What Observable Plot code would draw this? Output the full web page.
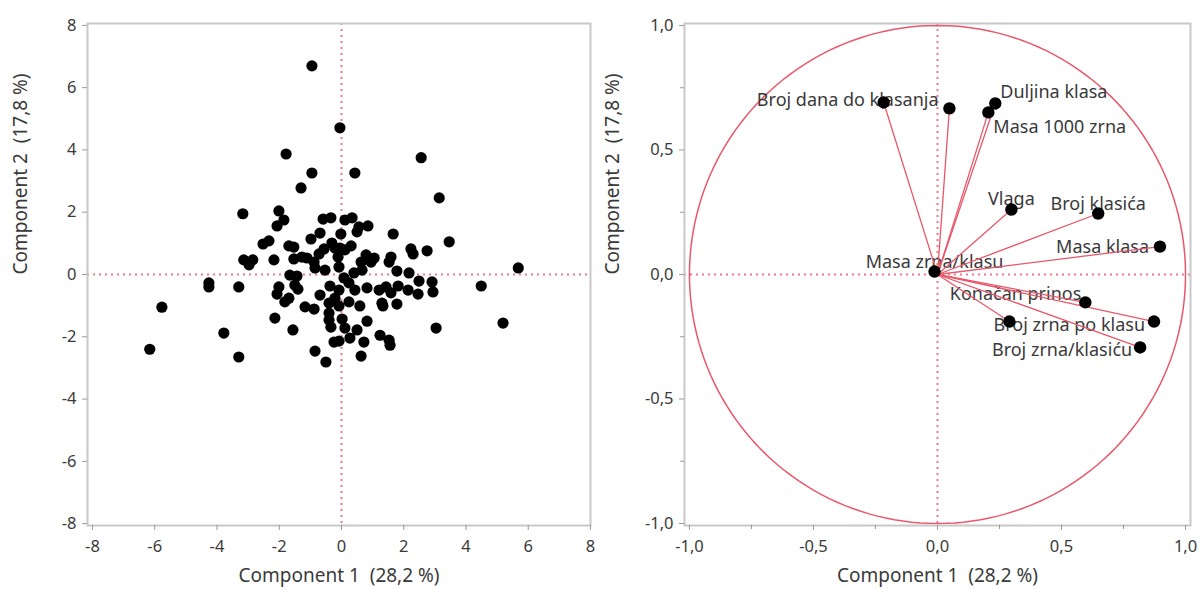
<!DOCTYPE html>
<html>
<head>
<meta charset="utf-8">
<script src="https://cdn.jsdelivr.net/npm/d3@7"></script>
<script src="https://cdn.jsdelivr.net/npm/@observablehq/plot@0.6"></script>
<style>
  html, body { margin: 0; padding: 0; background: #fff; }
  #wrap { position: relative; width: 1201px; height: 589px; overflow: hidden; font-family: "Noto Sans", sans-serif; }
  #left { position: absolute; left: 0; top: 0; }
  #right { position: absolute; left: 600px; top: 0; }
</style>
</head>
<body>
<div id="wrap"><div id="left"></div><div id="right"></div></div>
<script>
// ---- Score plot data (Component 1, Component 2) ----
const scoreX = [-0.95,-0.05,-1.78,-0.95,0.43,-1.30,2.56,3.14,3.46,5.68,4.49,5.19,3.04,-5.77,-6.16,-4.26,-4.26,-3.30,-3.78,-3.30,
  -3.17,-2.01,-1.85,-2.07,-0.59,-0.34,0.11,0.34,-0.69,-0.98,-2.52,-2.33,-1.69,-1.53,-0.56,-0.02,0.50,0.85,1.66,-3.14,
  -2.85,-2.97,-2.17,-1.53,-1.27,-1.11,-0.88,-0.85,-0.72,-0.31,-0.21,-0.05,0.11,0.31,-0.11,0.79,0.63,1.05,0.95,1.59,
  1.53,2.23,2.30,2.75,-0.08,-0.53,1.78,2.17,0.40,0.66,0.08,-1.66,-1.43,-2.01,-2.07,-1.50,-1.40,-1.82,-1.69,-1.17,
  -0.88,-0.69,-2.14,-1.56,-0.85,-0.50,-0.37,-0.08,0.24,0.43,0.82,1.21,1.43,1.59,1.82,2.14,2.46,2.94,2.49,2.91,
  -0.40,-0.21,-0.08,0.24,0.59,1.30,1.33,1.78,-0.40,-0.40,0.02,-0.34,0.11,0.82,0.50,0.27,-0.24,-0.08,0.72,1.24,
  1.53,1.56,0.63,0.56];
const scoreY = [6.70,4.71,3.87,3.26,3.26,2.78,3.75,2.46,1.05,0.21,-0.37,-1.56,-1.72,-1.05,-2.40,-0.27,-0.40,-0.40,-1.88,-2.65,
  1.95,2.04,1.75,1.56,1.78,1.82,1.75,1.82,1.33,1.14,0.98,1.08,0.92,0.88,0.82,1.30,1.37,1.56,1.30,0.47,
  0.47,0.31,0.47,0.50,0.56,0.53,0.40,0.21,0.66,1.01,0.85,0.85,0.79,0.92,0.56,0.63,0.40,0.53,0.40,0.56,
  0.40,0.82,0.66,0.76,0.24,0.14,0.11,0.05,0.05,0.14,-0.11,-0.02,-0.05,-0.40,-0.63,-0.34,-0.47,-0.88,-0.76,-1.04,
  -1.11,-0.66,-1.40,-1.78,-2.46,-2.81,-0.37,-0.50,-0.27,-0.50,-0.43,-0.50,-0.40,-0.59,-0.37,-0.50,-0.63,-0.56,-0.21,-0.24,
  -0.92,-0.76,-1.01,-0.88,-1.01,-0.92,-1.01,-0.95,-1.24,-1.46,-1.43,-1.69,-1.72,-1.50,-1.78,-2.04,-2.17,-2.14,-2.17,-1.95,
  -2.11,-2.27,-2.62,1.53];

// ---- Loading plot data ----
const loadNames = ["Broj dana do klasanja","","Duljina klasa","Masa 1000 zrna","Vlaga","Broj klasića","Masa klasa",
  "Masa zrna/klasu","Konačan prinos","Broj zrna po klasu","","Broj zrna/klasiću"];
const loadX = [-0.217,0.048,0.233,0.205,0.298,0.648,0.897,-0.012,0.596,0.873,0.290,0.817];
const loadY = [0.691,0.667,0.687,0.651,0.261,0.245,0.112,0.012,-0.112,-0.189,-0.189,-0.293];

// ---- Tick values ----
const scoreTicks = [-8,-6,-4,-2,0,2,4,6,8];
const loadTicks = [-1,-0.5,0,0.5,1];
const loadMinorTicks = [-0.75,-0.25,0.25,0.75];

const xTitle = "Component 1\u00a0 (28,2 %)";
const yTitle = "Component 2\u00a0 (17,8 %)";

// styles
const FONT = "Noto Sans";
const RED = "#e8586a";
const DOT_RED = "#f07888";
const GRID = "#c8c8c8";
const TXT = "#3a3a3a";
const TICK_FS = 16.5;
const TITLE_FS = 19;
const LABEL_FS = 18;

const scores = scoreX.map((x, i) => ({x, y: scoreY[i]}));
const loads = loadX.map((x, i) => ({name: loadNames[i], x, y: loadY[i]}));

const commaFmt = d => d.toFixed(1).replace(".", ",");

function axes(ticks, fmt, minor) {
  const m = [
    Plot.axisX(ticks, {tickSize: 5, tickPadding: 10, tickFormat: fmt, stroke: "#999", fill: TXT, fontSize: TICK_FS, label: null}),
    Plot.axisY(ticks, {tickSize: 5, tickPadding: 6, tickFormat: fmt, stroke: "#999", fill: TXT, fontSize: TICK_FS, label: null})
  ];
  if (minor) {
    m.push(Plot.axisX(minor, {tickSize: 4, tickFormat: () => "", stroke: "#999", label: null}));
    m.push(Plot.axisY(minor, {tickSize: 4, tickFormat: () => "", stroke: "#999", label: null}));
  }
  return m;
}

function titles(ydx) {
  return [
    Plot.text([xTitle], {frameAnchor: "bottom", dy: 56, fontSize: TITLE_FS, fill: TXT, text: d => d}),
    Plot.text([yTitle], {frameAnchor: "left", dx: ydx, rotate: -90, fontSize: TITLE_FS, fill: TXT, text: d => d})
  ];
}

const left = Plot.plot({
  width: 600, height: 589,
  marginLeft: 87, marginRight: 10, marginTop: 23, marginBottom: 64,
  style: {fontFamily: FONT, background: "white"},
  x: {domain: [-8.16, 8], label: null},
  y: {domain: [-8.06, 8.06], label: null},
  marks: [
    Plot.ruleX([0], {stroke: DOT_RED, strokeWidth: 2, strokeDasharray: "2,4"}),
    Plot.ruleY([0], {stroke: DOT_RED, strokeWidth: 2, strokeDasharray: "2,4"}),
    Plot.dot(scores, {x: "x", y: "y", r: 5.6, fill: "black", stroke: "none"}),
    Plot.frame({stroke: GRID, strokeWidth: 2}),
    ...axes(scoreTicks, d => String(d), null),
    ...titles(-67)
  ]
});
document.getElementById("left").appendChild(left);

// unit circle guide
const circle = d3.range(0, 361, 2).map(a => ({x: Math.cos(a * Math.PI / 180), y: Math.sin(a * Math.PI / 180)}));

const labelSpecs = {
  "Broj dana do klasanja": {anchor: "middle", dx: -36, dy: -2},
  "Duljina klasa": {anchor: "start", dx: 5, dy: -11},
  "Masa 1000 zrna": {anchor: "start", dx: 5, dy: 15},
  "Vlaga": {anchor: "middle", dx: 0, dy: -10},
  "Broj klasića": {anchor: "middle", dx: 0, dy: -9},
  "Masa klasa": {anchor: "end", dx: -11, dy: 1},
  "Masa zrna/klasu": {anchor: "middle", dx: 0, dy: -9},
  "Konačan prinos": {anchor: "end", dx: -4, dy: -8},
  "Broj zrna po klasu": {anchor: "end", dx: -9, dy: 4},
  "Broj zrna/klasiću": {anchor: "end", dx: -8, dy: 3}
};
const labelMarks = loads.filter(d => d.name).map(d => {
  const s = labelSpecs[d.name];
  return Plot.text([d], {x: "x", y: "y", text: "name", textAnchor: s.anchor, dx: s.dx, dy: s.dy, fontSize: LABEL_FS, fill: TXT});
});

const right = Plot.plot({
  width: 601, height: 589,
  marginLeft: 84, marginRight: 11, marginTop: 23, marginBottom: 64,
  style: {fontFamily: FONT, background: "white"},
  x: {domain: [-1.02, 1.02], label: null},
  y: {domain: [-1.008, 1.008], label: null},
  marks: [
    Plot.ruleX([0], {stroke: DOT_RED, strokeWidth: 2, strokeDasharray: "2,4"}),
    Plot.ruleY([0], {stroke: DOT_RED, strokeWidth: 2, strokeDasharray: "2,4"}),
    Plot.line(circle, {x: "x", y: "y", stroke: RED, strokeWidth: 1.5, curve: "linear"}),
    ...labelMarks,
    Plot.arrow(loads, {x1: d => 0, y1: d => 0, x2: "x", y2: "y", stroke: RED, strokeWidth: 1.3, headLength: 7}),
    Plot.dot(loads, {x: "x", y: "y", r: 6.2, fill: "black", stroke: "none"}),
    Plot.frame({stroke: GRID, strokeWidth: 2}),
    ...axes(loadTicks, commaFmt, loadMinorTicks),
    ...titles(-72)
  ]
});
document.getElementById("right").appendChild(right);
</script>
</body>
</html>
